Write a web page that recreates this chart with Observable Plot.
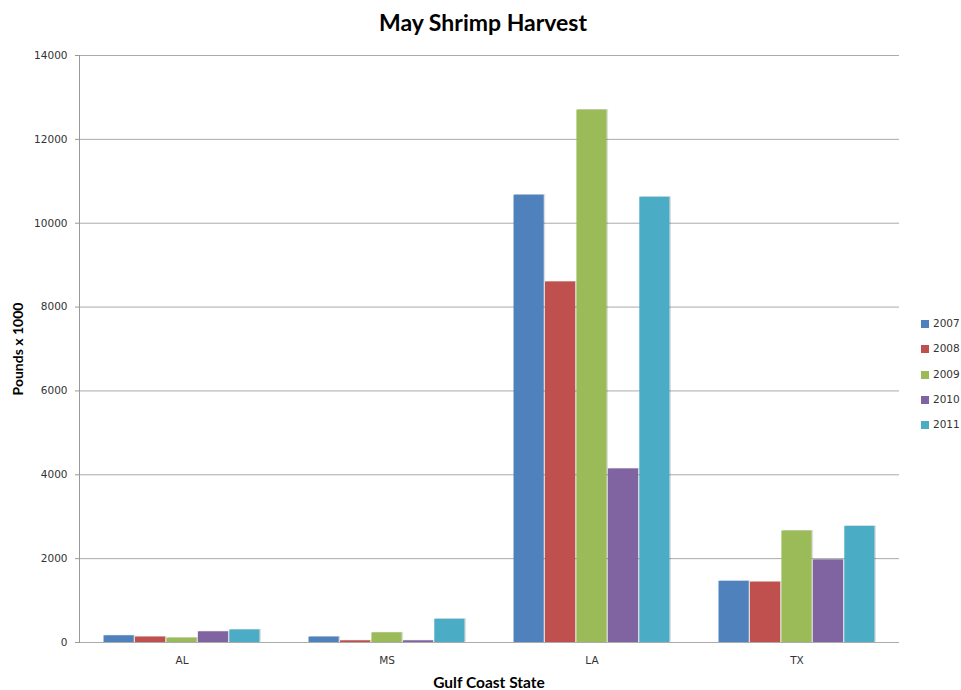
<!DOCTYPE html>
<html>
<head>
<meta charset="utf-8">
<script src="https://cdn.jsdelivr.net/npm/d3@7"></script>
<script src="https://cdn.jsdelivr.net/npm/@observablehq/plot@0.6"></script>
<style>
  html, body { margin: 0; padding: 0; background: #fff; }
  #chart { position: relative; width: 961px; height: 690px; overflow: hidden; }
  #chart svg { position: absolute; left: 0; top: 0; }
  .title { position: absolute; left: 0; top: 8px; width: 966px; text-align: center;
           font: bold 23px Lato, "Open Sans", sans-serif; color: #000; }
  .ylabel { position: absolute; left: 17px; top: 349px; transform: translate(-50%, -50%) rotate(-90deg);
            font: bold 14px Lato, "Open Sans", sans-serif; white-space: nowrap; color: #000; }
  .xlabel { position: absolute; left: 0; top: 673px; width: 978px; text-align: center;
            font: bold 15.5px Lato, "Open Sans", sans-serif; color: #000; }
  .legend { position: absolute; left: 921px; top: 317px; font: 10.5px "DejaVu Sans", sans-serif; color: #333; }
  .legend div { height: 25.3px; display: flex; align-items: flex-start; }
  .legend span.sw { display: inline-block; width: 8px; height: 8px; margin: 3px 4px 0 0; }
</style>
</head>
<body>
<div id="chart"></div>
<script>
// Gulf coast states and harvest years
const states = ["AL", "MS", "LA", "TX"];
const years = ["2007", "2008", "2009", "2010", "2011"];

// May shrimp harvest, pounds x 1000, one value per state (AL, MS, LA, TX)
const harvest2007 = [160, 130, 10670, 1460];
const harvest2008 = [130, 40, 8600, 1440];
const harvest2009 = [105, 230, 12700, 2660];
const harvest2010 = [255, 40, 4140, 1970];
const harvest2011 = [300, 555, 10620, 2770];

const yearColors = ["#4F81BD", "#C0504D", "#9BBB59", "#8064A2", "#4BACC6"];
const yTicks = [0, 2000, 4000, 6000, 8000, 10000, 12000, 14000];

const series = [harvest2007, harvest2008, harvest2009, harvest2010, harvest2011];
const rows = years.flatMap((year, i) =>
  states.map((state, j) => ({state, year, value: series[i][j]}))
);

const chart = Plot.plot({
  width: 961,
  height: 690,
  marginTop: 55,
  marginBottom: 48,
  marginLeft: 78,
  marginRight: 61,
  style: {fontFamily: "'DejaVu Sans', sans-serif", fontSize: "10.5px", color: "#333", background: "transparent"},
  fx: {domain: states, padding: 0, label: null},
  x: {domain: years, paddingInner: 0.04, paddingOuter: 0.78, round: false, axis: null},
  y: {domain: [0, 14000], axis: null},
  color: {domain: years, range: yearColors},
  marks: [
    Plot.ruleY(yTicks, {stroke: "#ababab", strokeWidth: 1}),
    // soft shadow behind each bar
    Plot.barY(rows, {fx: "state", x: "year", y: "value", fill: "#000", fillOpacity: 0.13, dx: 1.5, dy: -0.5}),
    Plot.barY(rows, {fx: "state", x: "year", y: "value", fill: "year"}),
    Plot.axisY({ticks: yTicks, tickFormat: "d", tickSize: 4, tickPadding: 8, stroke: "#999", label: null}),
    Plot.axisFx({anchor: "bottom", tickSize: 0, tickPadding: 14, label: null}),
    Plot.frame({anchor: "left", facet: "super", stroke: "#999"})
  ]
});

const root = document.getElementById("chart");
root.append(chart);

const title = document.createElement("div");
title.className = "title";
title.textContent = "May Shrimp Harvest";
root.append(title);

const ylabel = document.createElement("div");
ylabel.className = "ylabel";
ylabel.textContent = "Pounds x 1000";
root.append(ylabel);

const xlabel = document.createElement("div");
xlabel.className = "xlabel";
xlabel.textContent = "Gulf Coast State";
root.append(xlabel);

const colorScale = chart.scale("color");
const legend = document.createElement("div");
legend.className = "legend";
for (const year of colorScale.domain) {
  const item = document.createElement("div");
  const sw = document.createElement("span");
  sw.className = "sw";
  sw.style.background = colorScale.apply(year);
  item.append(sw, document.createTextNode(year));
  legend.append(item);
}
root.append(legend);
</script>
</body>
</html>
